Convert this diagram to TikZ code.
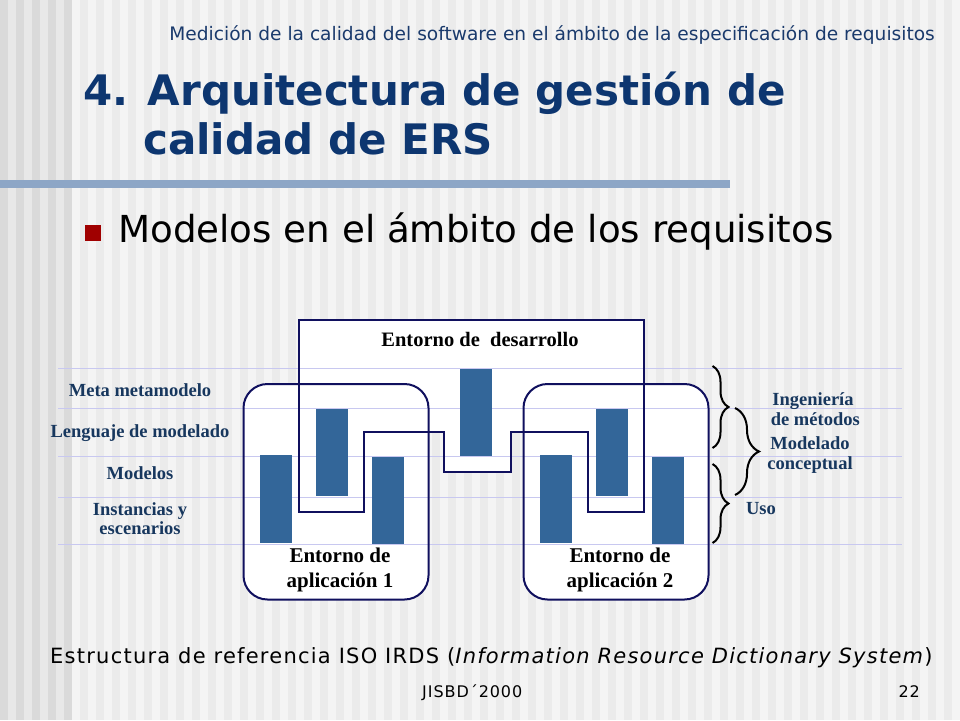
\documentclass[tikz,border=0pt]{standalone}
\usepackage{fontspec}
\setmainfont{DejaVu Sans}
\newfontfamily\dserif{Liberation Serif}
\newfontfamily\spacedsans[LetterSpace=5.9]{DejaVu Sans}
\usetikzlibrary{decorations.pathreplacing}
\definecolor{stripeA}{HTML}{F4F4F4}
\definecolor{stripeB}{HTML}{EBEBEB}
\definecolor{leftL}{HTML}{E8E8E8}
\definecolor{leftD}{HTML}{DADADA}
\definecolor{titleblue}{HTML}{0D3670}
\definecolor{headblue}{HTML}{1A3A6C}
\definecolor{titlebar}{HTML}{8DA6C6}
\definecolor{bulletred}{HTML}{A00000}
\definecolor{barblue}{HTML}{336699}
\definecolor{labelblue}{HTML}{17375E}
\definecolor{navy}{HTML}{10105E}
\definecolor{guidecol}{HTML}{C8C8F0}
\begin{document}
\begin{tikzpicture}[x=1pt,y=-1pt,
  lbl/.style={inner sep=0pt, text=labelblue, font=\dserif\bfseries\fontsize{18.5}{19.5}\selectfont, align=center},
  envlbl/.style={inner sep=0pt, font=\dserif\bfseries\fontsize{21}{25}\selectfont, align=center},
  bar/.style={fill=barblue},
  envbox/.style={draw=navy, line width=2pt, rounded corners=24pt},
  guide/.style={draw=guidecol, line width=1pt},
  brc/.style={decorate, decoration={brace, amplitude=#1}, draw=black, line width=2pt}]
\useasboundingbox (0,0) rectangle (960,720);
% background stripes
\fill[stripeA] (0,0) rectangle (960,720);
\foreach \x in {80,96,...,952} \fill[stripeB] (\x,0) rectangle (\x+8,720);
\fill[leftL] (0,0) rectangle (72,720);
\foreach \x in {0,16,...,64} \fill[leftD] (\x,0) rectangle (\x+8,720);
% header
\node[anchor=base east, inner sep=0pt, text=headblue, font=\fontsize{18.6}{21}\selectfont] (head) at (935,40) {Medición de la calidad del software en el ámbito de la especificación de requisitos};
\node[anchor=base west, inner sep=0pt, text=titleblue, font=\bfseries\fontsize{42}{48}\selectfont] (t1) at (83,105) {4. Arquitectura de gestión de};
\node[anchor=base west, inner sep=0pt, text=titleblue, font=\bfseries\fontsize{42}{48}\selectfont] (t2) at (143,154) {calidad de ERS};
\fill[titlebar] (0,180) rectangle (730,187.5);
% bullet
\fill[bulletred] (85,225) rectangle (100.5,240.5);
\node[anchor=base west, inner sep=0pt, font=\fontsize{37.2}{42}\selectfont] (sub) at (118,242) {Modelos en el ámbito de los requisitos};
% diagram fills
\fill[white] (299,320) -- (644,320) -- (644,512) -- (588,512) -- (588,432) -- (511,432) -- (511,472) -- (444,472) -- (444,432) -- (364,432) -- (364,512) -- (299,512) -- cycle;
\fill[white, rounded corners=24pt] (243.5,384) rectangle (428.5,599.5);
\fill[white, rounded corners=24pt] (523.5,384) rectangle (708.5,599.5);
% guide lines
\foreach \y in {368.5,408.5,456,497.5,544.5} \draw[guide] (58,\y) -- (902,\y);
% outlines
\draw[navy, line width=2pt, line join=miter] (299,320) -- (644,320) -- (644,512) -- (588,512) -- (588,432) -- (511,432) -- (511,472) -- (444,472) -- (444,432) -- (364,432) -- (364,512) -- (299,512) -- cycle;
\draw[envbox] (243.5,384) rectangle (428.5,599.5);
\draw[envbox] (523.5,384) rectangle (708.5,599.5);
% bars
\fill[bar] (260,455) rectangle (292,542.5);
\fill[bar] (316,409) rectangle (348,496);
\fill[bar] (372,457) rectangle (404,543.5);
\fill[bar] (460,369) rectangle (492,456);
\fill[bar] (540,455) rectangle (572,542.5);
\fill[bar] (596,409) rectangle (628,496);
\fill[bar] (652,457) rectangle (684,543.5);
% diagram texts
\node[inner sep=0pt, font=\dserif\bfseries\fontsize{20.5}{24}\selectfont] (dev) at (480,339) {Entorno de\ \ desarrollo};
\node[envlbl] (app1) at (340,570) {Entorno de\\aplicación 1};
\node[envlbl] (app2) at (620,570) {Entorno de\\aplicación 2};
\node[lbl] (meta) at (140,390) {Meta metamodelo};
\node[lbl] (leng) at (140,433) {Lenguaje de modelado};
\node[lbl] (mods) at (140,473) {Modelos};
\node[lbl] (inst) at (140,518.5) {Instancias y\\escenarios};
\node[lbl] (ing) at (813,409) {Ingeniería\\ \ de métodos};
\node[lbl] (modc) at (810,455) {Modelado\\conceptual};
\node[lbl] (uso) at (761,509) {Uso};
% braces
\coordinate (b1a) at (712.5,366); \coordinate (b1b) at (712.5,448);
\coordinate (b2a) at (712.5,464); \coordinate (b2b) at (712.5,543);
\coordinate (b3a) at (735,408); \coordinate (b3b) at (735,495);
\draw[brc=16pt] (b1a) -- (b1b);
\draw[brc=16pt] (b2a) -- (b2b);
\draw[brc=24pt] (b3a) -- (b3b);
% footer
\node[anchor=base west, inner sep=0pt, font=\spacedsans\fontsize{21}{24}\selectfont] (cap) at (50,663) {Estructura de referencia ISO IRDS (\textit{Information Resource Dictionary System})};
\node[anchor=base west, inner sep=0pt, font=\spacedsans\fontsize{16}{19}\selectfont] (jis) at (422,697) {JISBD´2000};
\node[anchor=base east, inner sep=0pt, font=\spacedsans\fontsize{16}{19}\selectfont] (num) at (920,697) {22};
\end{tikzpicture}
\end{document}
